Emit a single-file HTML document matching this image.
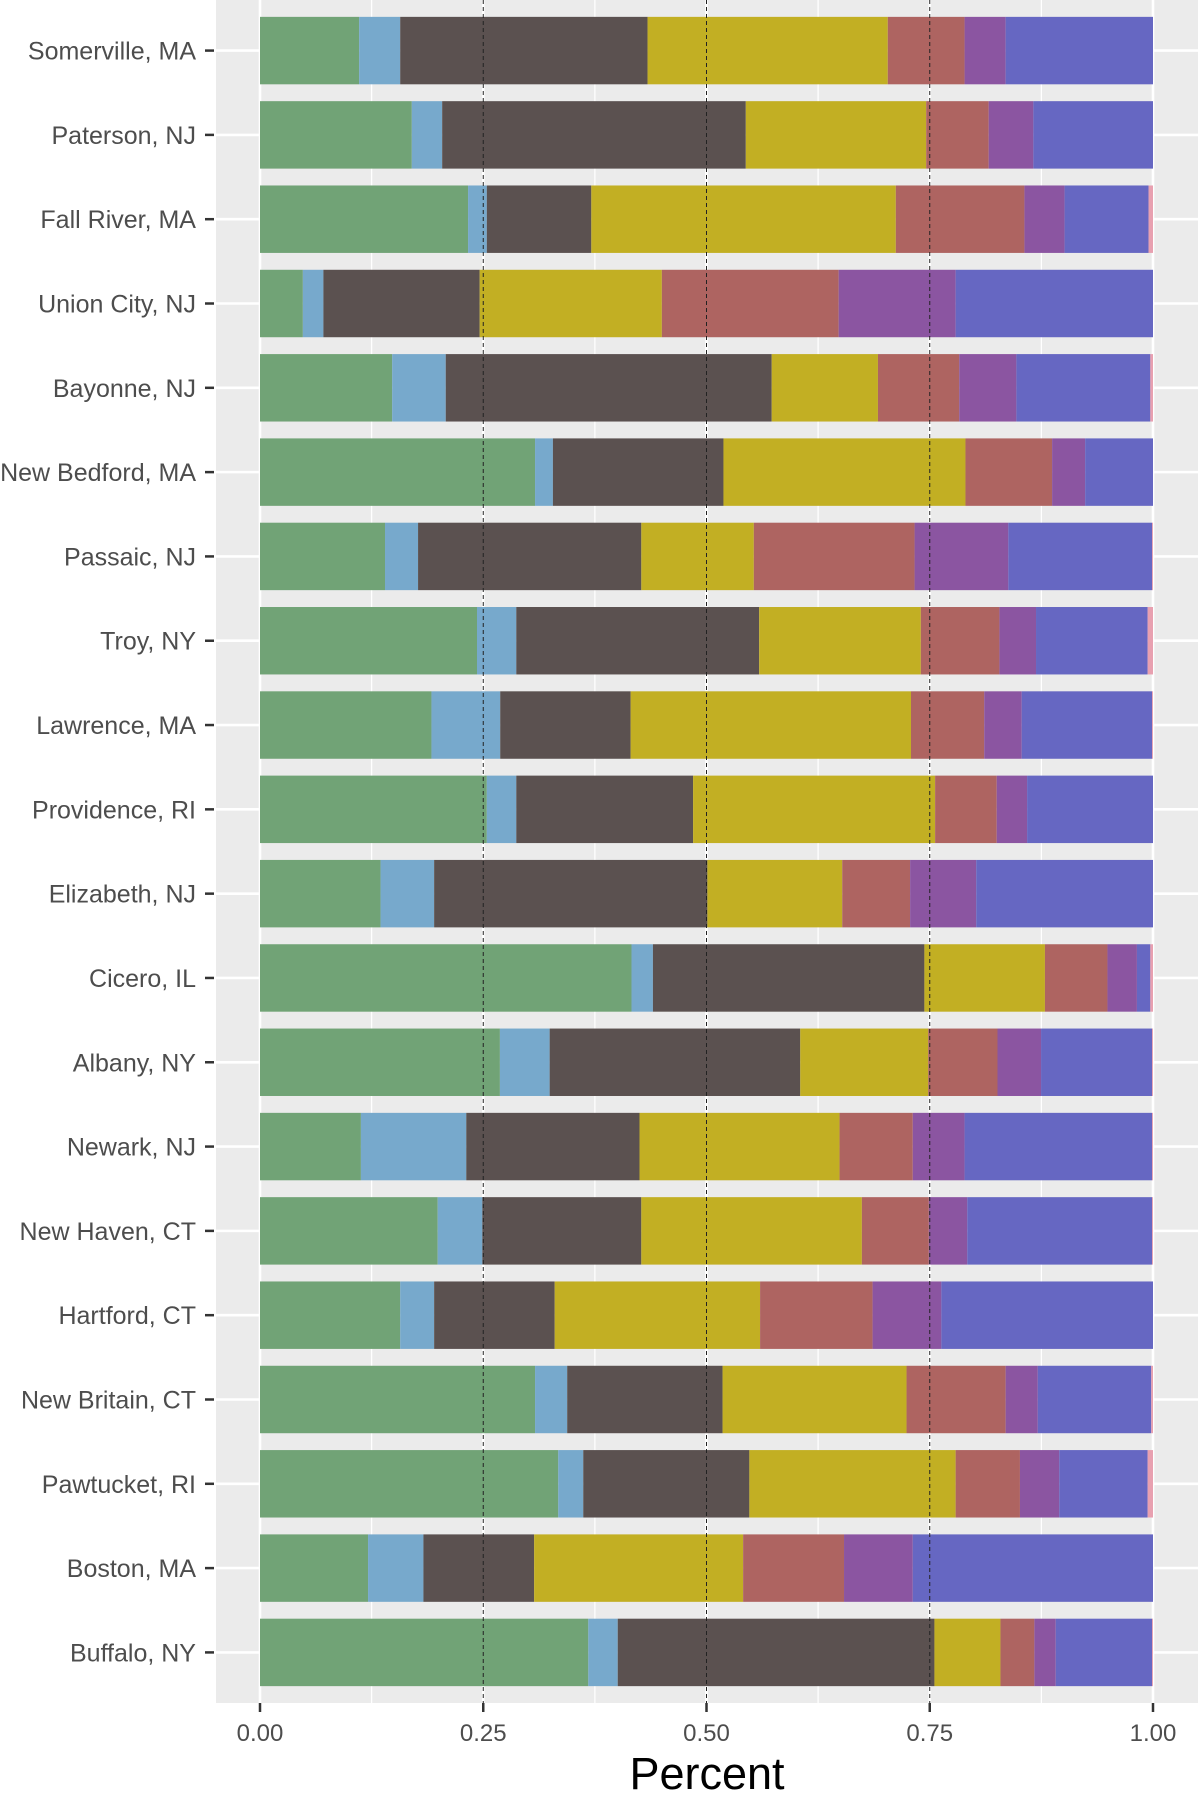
<!DOCTYPE html>
<html><head><meta charset="utf-8"><style>
html,body{margin:0;padding:0;background:#fff}
svg{display:block}
</style></head><body>
<svg id="chart" width="1200" height="1800" xmlns="http://www.w3.org/2000/svg" font-family="Liberation Sans, sans-serif"></svg>
<script>
const categories=["Somerville, MA","Paterson, NJ","Fall River, MA","Union City, NJ","Bayonne, NJ","New Bedford, MA","Passaic, NJ","Troy, NY","Lawrence, MA","Providence, RI","Elizabeth, NJ","Cicero, IL","Albany, NY","Newark, NJ","New Haven, CT","Hartford, CT","New Britain, CT","Pawtucket, RI","Boston, MA","Buffalo, NY"];
const sGreen=[.111,.170,.233,.048,.148,.308,.140,.243,.192,.254,.135,.416,.270,.113,.199,.157,.308,.334,.121,.368];
const sBlue=[.046,.034,.021,.023,.060,.020,.037,.044,.077,.033,.060,.024,.056,.118,.050,.038,.036,.028,.062,.033];
const sDark=[.277,.340,.117,.175,.365,.191,.250,.272,.146,.198,.306,.304,.282,.194,.178,.135,.174,.186,.124,.355];
const sYellow=[.269,.202,.341,.204,.119,.271,.126,.181,.314,.271,.151,.135,.144,.224,.247,.230,.206,.231,.234,.074];
const sRed=[.086,.070,.144,.198,.091,.097,.180,.088,.082,.069,.076,.070,.078,.082,.075,.126,.111,.072,.113,.038];
const sPurple=[.046,.050,.045,.131,.064,.037,.105,.041,.042,.034,.074,.033,.049,.058,.043,.077,.036,.044,.077,.024];
const sIndigo=[.165,.134,.094,.221,.150,.076,.161,.125,.146,.141,.198,.015,.125,.210,.207,.237,.127,.099,.269,.108];
const sPink=[0,0,.005,0,.003,0,.001,.006,.001,0,0,.003,.001,.001,.001,0,.002,.006,0,.001];
const xTicks=[0,0.25,0.5,0.75,1];
const xTickLabels=["0.00","0.25","0.50","0.75","1.00"];
const seriesList=[sGreen,sBlue,sDark,sYellow,sRed,sPurple,sIndigo,sPink];
const seriesNames=["green","blue","dark","yellow","red","purple","indigo","pink"];
const colors=["#71a376","#77a9cc","#5b5150","#c2af23","#ae6461","#8b55a1","#6667c2","#e8a0b0"];

const NS="http://www.w3.org/2000/svg";
const svg=document.getElementById('chart');
const PL=216,PR=1198,PT=0,PB=1703;
const x0=260,x1=1153;
const xs=v=>x0+v*(x1-x0);
const n=categories.length;
const step=(PB-PT)/(n+0.2);
const ys=i=>PT+step*(0.6+i);
const barH=step*0.8;
function mk(tag,attrs){const e=document.createElementNS(NS,tag);for(const k in attrs)e.setAttribute(k,attrs[k]);svg.appendChild(e);return e;}

let e=mk('rect',{x:PL,y:PT,width:PR-PL,height:PB-PT,fill:'#ebebeb'});


for(let k=0;k<4;k++){const v=0.125+0.25*k;
 e=mk('line',{x1:xs(v),x2:xs(v),y1:PT,y2:PB,stroke:'#fff','stroke-width':1.3});
 
 }
xTicks.forEach(v=>{
 e=mk('line',{x1:xs(v),x2:xs(v),y1:PT,y2:PB,stroke:'#fff','stroke-width':2.6});
 
 });
categories.forEach((c,i)=>{
 e=mk('line',{x1:PL,x2:PR,y1:ys(i),y2:ys(i),stroke:'#fff','stroke-width':2.6});
 
 });

categories.forEach((c,i)=>{
 let tot=0;seriesList.forEach(s=>tot+=s[i]);
 let cum=0;
 seriesList.forEach((s,j)=>{
  const v=s[i]/tot; if(v<=0)return;
  e=mk('rect',{x:xs(cum),y:ys(i)-barH/2,width:xs(cum+v)-xs(cum),height:barH,fill:colors[j]});
  
  
  cum+=v;});
 e=mk('line',{x1:205,x2:214,y1:ys(i),y2:ys(i),stroke:'#333','stroke-width':2.5});
 
 
 e=mk('text',{x:196,y:ys(i)+9,'text-anchor':'end','font-size':25,fill:'#4d4d4d'});
 e.textContent=c;
 
 
});
[0.25,0.5,0.75].forEach(v=>{
 e=mk('line',{x1:xs(v),x2:xs(v),y1:PT,y2:PB,stroke:'#222','stroke-width':1,'stroke-dasharray':'4,3'});
 
 });
xTicks.forEach((v,k)=>{
 e=mk('line',{x1:xs(v),x2:xs(v),y1:PB,y2:PB+9,stroke:'#333','stroke-width':2.5});
 
 
 e=mk('text',{x:xs(v),y:1741,'text-anchor':'middle','font-size':24,fill:'#4d4d4d'});
 e.textContent=xTickLabels[k];
 
 });
e=mk('text',{x:(PL+PR)/2,y:1789,'text-anchor':'middle','font-size':45,fill:'#000'});
e.textContent='Percent';


</script>
</body></html>
